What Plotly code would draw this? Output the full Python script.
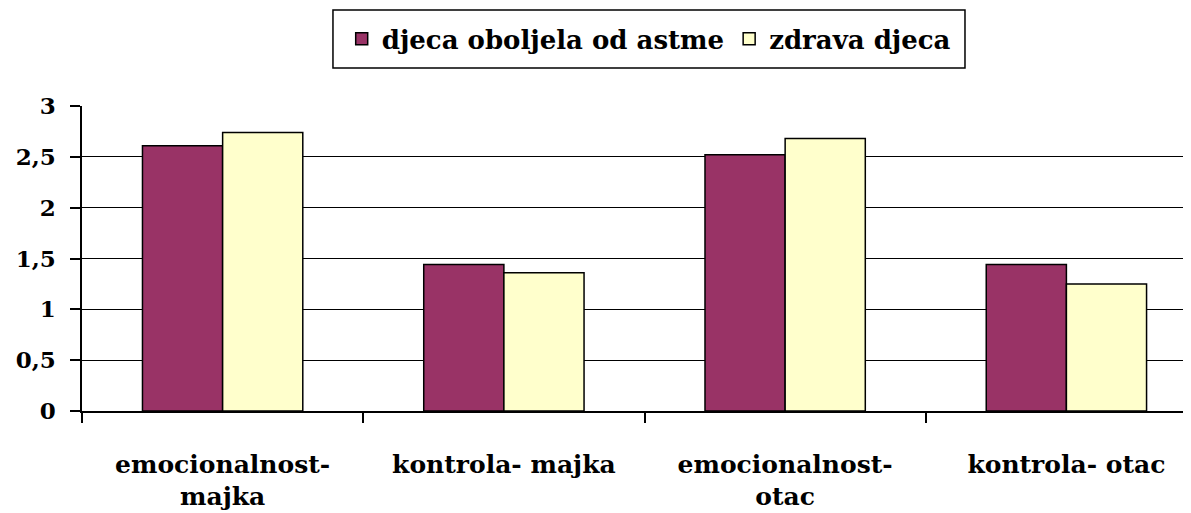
import plotly.graph_objects as go

categories = ["emocionalnost-<br>majka", "kontrola- majka", "emocionalnost-<br>otac", "kontrola- otac"]
series_names = ["djeca oboljela od astme", "zdrava djeca"]
asthma = [2.61, 1.44, 2.52, 1.44]
healthy = [2.74, 1.36, 2.68, 1.25]
y_ticks = [0, 0.5, 1, 1.5, 2, 2.5, 3]
y_tick_labels = ["0", "0,5", "1", "1,5", "2", "2,5", "3"]

FONT = "DejaVu Serif"

fig = go.Figure()
fig.add_trace(go.Bar(x=categories, y=asthma, name=series_names[0],
                     marker=dict(color="#993366", line=dict(color="black", width=1.5))))
fig.add_trace(go.Bar(x=categories, y=healthy, name=series_names[1],
                     marker=dict(color="#FFFFCC", line=dict(color="black", width=1.5))))

fig.update_layout(
    width=1183, height=505,
    margin=dict(l=74, r=0, t=98, b=102, autoexpand=False),
    plot_bgcolor="white", paper_bgcolor="white",
    barmode="group", bargap=0.43, bargroupgap=0,
    font=dict(family=FONT, size=22, color="black", weight="bold"),
    legend=dict(orientation="h", x=0.511, xanchor="center", y=1.22, yanchor="middle",
                borderwidth=0, bgcolor="rgba(0,0,0,0)",
                font=dict(family=FONT, size=26, color="black", weight="bold"),
                itemwidth=30, traceorder="normal"),
    showlegend=True,
    shapes=[dict(type="rect", xref="paper", yref="paper",
                 x0=0.2263, x1=0.7962, y0=1.1246, y1=1.3148,
                 line=dict(color="black", width=1.5), fillcolor="rgba(0,0,0,0)", layer="below")],
)
fig.update_xaxes(
    range=[-0.5, 3.443],
    showline=True, linecolor="black", linewidth=1.5,
    ticks="outside", tickson="boundaries", ticklen=10, tickcolor="black", tickwidth=1.5,
    ticklabelstandoff=30,
    tickfont=dict(family=FONT, size=25, color="black", weight="bold"),
    showgrid=False,
)
fig.update_yaxes(
    range=[0, 3],
    tickvals=y_ticks, ticktext=y_tick_labels,
    showline=True, linecolor="black", linewidth=1.5,
    ticks="outside", ticklen=10, tickcolor="black", tickwidth=1.5,
    ticklabelstandoff=10,
    showgrid=True, gridcolor="black", gridwidth=1.2,
    zeroline=False,
    tickfont=dict(family=FONT, size=23, color="black", weight="bold"),
)

fig.write_html("out.html")
